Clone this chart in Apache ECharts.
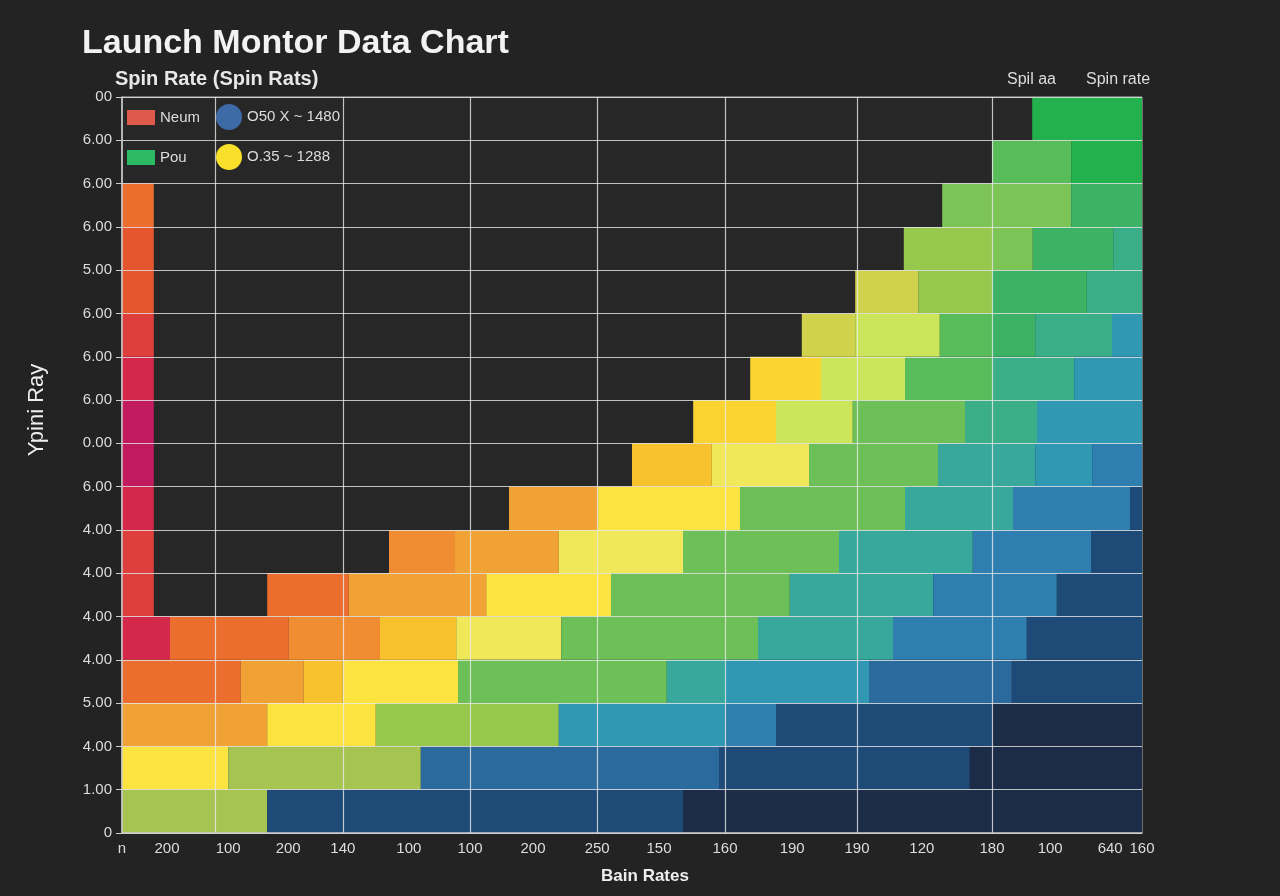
<!DOCTYPE html>
<html>
<head>
<meta charset="utf-8">
<title>Launch Montor Data Chart</title>
<script src="https://cdn.jsdelivr.net/npm/echarts@6/dist/echarts.min.js"></script>
<style>
  html, body { margin: 0; padding: 0; background: #232323; }
  #main { width: 1280px; height: 896px; }
</style>
</head>
<body>
<div id="main"></div>
<script>
// tick labels (y from bottom to top)
var yLabels = ['0', '1.00', '4.00', '5.00', '4.00', '4.00', '4.00', '4.00', '6.00',
               '0.00', '6.00', '6.00', '6.00', '5.00', '6.00', '6.00', '6.00', '00'];
var xLabels = ['n', '200', '100', '200', '140', '100', '100', '200', '250',
               '150', '160', '190', '190', '120', '180', '100', '640', '160'];
var xTickPos = [0, 0.75, 1.77, 2.77, 3.68, 4.78, 5.80, 6.85, 7.92,
                8.95, 10.05, 11.17, 12.25, 13.33, 14.50, 15.47, 16.47, 17];
// vertical grid lines
var gridX = [1.55, 3.68, 5.80, 7.92, 10.05, 12.25, 14.50];

// cells: [row, xStart, xEnd, level]
var cells = [
  [16, 15.17, 17, 19],
  [15, 14.50, 15.82, 17], [15, 15.82, 17, 19],
  [14, 0, 0.53, 4], [14, 13.67, 15.82, 15], [14, 15.82, 17, 18],
  [13, 0, 0.53, 3], [13, 13.03, 14.50, 14], [13, 14.50, 15.18, 15], [13, 15.18, 16.52, 18], [13, 16.52, 17, 20],
  [12, 0, 0.53, 3], [12, 12.22, 13.27, 12], [12, 13.27, 14.50, 14], [12, 14.50, 16.08, 18], [12, 16.08, 17, 20],
  [11, 0, 0.53, 2], [11, 11.33, 12.22, 12], [11, 12.22, 13.63, 11], [11, 13.63, 14.50, 17], [11, 14.50, 15.22, 18],
  [11, 15.22, 16.50, 20], [11, 16.50, 17, 22],
  [10, 0, 0.53, 1], [10, 10.47, 11.65, 8], [10, 11.65, 13.05, 11], [10, 13.05, 14.50, 17], [10, 14.50, 15.87, 20],
  [10, 15.87, 17, 22],
  [9, 0, 0.53, 0], [9, 9.52, 10.90, 8], [9, 10.90, 12.18, 11], [9, 12.18, 14.05, 16], [9, 14.05, 15.25, 20],
  [9, 15.25, 17, 22],
  [8, 0, 0.53, 0], [8, 8.50, 9.83, 7], [8, 9.83, 11.45, 10], [8, 11.45, 13.60, 16], [8, 13.60, 15.22, 21],
  [8, 15.22, 16.17, 22], [8, 16.17, 17, 23],
  [7, 0, 0.53, 1], [7, 6.45, 7.93, 6], [7, 7.93, 10.30, 9], [7, 10.30, 13.05, 16], [7, 13.05, 14.85, 21],
  [7, 14.85, 16.80, 23], [7, 16.80, 17, 25],
  [6, 0, 0.53, 2], [6, 4.45, 5.55, 5], [6, 5.55, 7.28, 6], [6, 7.28, 9.35, 10], [6, 9.35, 11.95, 16],
  [6, 11.95, 14.18, 21], [6, 14.18, 16.15, 23], [6, 16.15, 17, 25],
  [5, 0, 0.53, 2], [5, 2.42, 3.78, 4], [5, 3.78, 6.07, 6], [5, 6.07, 8.15, 9], [5, 8.15, 11.13, 16],
  [5, 11.13, 13.52, 21], [5, 13.52, 15.58, 23], [5, 15.58, 17, 25],
  [4, 0, 0.80, 1], [4, 0.80, 2.78, 4], [4, 2.78, 4.30, 5], [4, 4.30, 5.57, 7], [4, 5.57, 7.32, 10],
  [4, 7.32, 10.60, 16], [4, 10.60, 12.85, 21], [4, 12.85, 15.08, 23], [4, 15.08, 17, 25],
  [3, 0, 1.98, 4], [3, 1.98, 3.03, 6], [3, 3.03, 3.68, 7], [3, 3.68, 5.60, 9], [3, 5.60, 9.08, 16],
  [3, 9.08, 10.05, 21], [3, 10.05, 12.45, 22], [3, 12.45, 14.83, 24], [3, 14.83, 17, 25],
  [2, 0, 2.42, 6], [2, 2.42, 4.23, 9], [2, 4.23, 7.28, 14], [2, 7.28, 10.08, 22], [2, 10.08, 10.90, 23],
  [2, 10.90, 14.50, 25], [2, 14.50, 17, 27],
  [1, 0, 1.77, 9], [1, 1.77, 4.98, 13], [1, 4.98, 9.95, 24], [1, 9.95, 14.13, 25], [1, 14.13, 17, 27],
  [0, 0, 2.42, 13], [0, 2.42, 9.35, 25], [0, 9.35, 17, 27]
];

// legend entries
var legendRects = ['Neum', 'Pou'];
var legendDots = ['O50 X ~ 1480', 'O.35 ~ 1288'];

// colour per level
var palette = [
  '#c21a5e', '#d3284a', '#de3e3c', '#e5552e', '#ec6e2f', '#f08c32', '#f0a235', '#f8c22e',
  '#fbd432', '#fde340', '#f0e858', '#cde55a', '#cfd24a', '#a6c452', '#96c84e', '#7dc456',
  '#6dc057', '#58bc5a', '#3db265', '#22b14c', '#3aae86', '#38a89c', '#3098b2', '#2e7fb0',
  '#2a6a9c', '#1e4a78', '#1d3a60', '#1c2c48'
];
var legendColors = ['#e05a4c', '#2cbb64', '#3e6aa8', '#f8e02a'];

var font = 'Liberation Sans, Arial, sans-serif';
var myChart = echarts.init(document.getElementById('main'));

function renderItem(params, api) {
  var row = api.value(0);
  var p0 = api.coord([api.value(1), row + 1]);
  var p1 = api.coord([api.value(2), row]);
  return {
    type: 'rect',
    shape: { x: p0[0], y: p0[1], width: p1[0] - p0[0], height: p1[1] - p0[1] },
    style: { fill: palette[api.value(3)] }
  };
}

var series = [
  {
    name: 'Spin rate',
    type: 'custom',
    renderItem: renderItem,
    encode: { x: [1, 2], y: 0 },
    data: cells,
    z: 2
  },
  {
    name: 'gridlines',
    type: 'line',
    data: [],
    silent: true,
    markLine: {
      silent: true,
      symbol: ['none', 'none'],
      label: { show: false },
      lineStyle: { color: 'rgba(232,232,232,0.8)', width: 1.2, type: 'solid' },
      data: gridX.map(function (v) { return { xAxis: v }; })
    }
  }
];
legendRects.concat(legendDots).forEach(function (name, i) {
  series.push({ name: name, type: 'scatter', data: [], itemStyle: { color: legendColors[i], opacity: 1 } });
});

var option = {
  backgroundColor: '#232323',
  animation: false,
  title: [
    { text: 'Launch Montor Data Chart', left: 77, top: 22,
      textStyle: { color: '#f2f2f2', fontSize: 34, fontWeight: 'bold', fontFamily: font } },
    { text: 'Spin Rate (Spin Rats)', left: 110, top: 64,
      textStyle: { color: '#e8e8e8', fontSize: 20, fontWeight: 'bold', fontFamily: font } },
    { text: 'Spil aa', left: 1002, top: 67,
      textStyle: { color: '#dddddd', fontSize: 16, fontWeight: 'normal', fontFamily: font } },
    { text: 'Spin rate', left: 1081, top: 67,
      textStyle: { color: '#dddddd', fontSize: 16, fontWeight: 'normal', fontFamily: font } }
  ],
  legend: [
    {
      orient: 'vertical', left: 127, top: 110, padding: 0, itemWidth: 28, itemHeight: 15, itemGap: 25,
      data: legendRects.map(function (n) { return { name: n, icon: 'rect' }; }),
      textStyle: { color: '#dddddd', fontSize: 15, fontFamily: font }
    },
    {
      orient: 'vertical', left: 216, top: 104, padding: 0, itemWidth: 26, itemHeight: 26, itemGap: 14,
      data: legendDots.map(function (n) { return { name: n, icon: 'circle' }; }),
      textStyle: { color: '#dddddd', fontSize: 15, fontFamily: font }
    }
  ],
  grid: {
    left: 122, right: 138, top: 97, bottom: 63,
    show: true, backgroundColor: '#272727', borderColor: 'rgba(220,220,220,0.8)', borderWidth: 1
  },
  xAxis: {
    type: 'value', min: 0, max: 17, z: 10,
    name: 'Bain Rates', nameLocation: 'middle', nameGap: 35,
    nameTextStyle: { color: '#eeeeee', fontSize: 17, fontWeight: 'bold', fontFamily: font,
                     padding: [0, 0, 0, 26] },
    axisLine: { show: true, lineStyle: { color: '#cccccc', width: 1.5 } },
    axisTick: { show: false },
    splitLine: { show: false },
    axisLabel: {
      customValues: xTickPos, showMinLabel: true, showMaxLabel: true,
      color: '#dddddd', fontSize: 15, fontFamily: font, margin: 8,
      formatter: function (v) {
        var best = 0;
        xTickPos.forEach(function (p, i) {
          if (Math.abs(p - v) < Math.abs(xTickPos[best] - v)) best = i;
        });
        return xLabels[best];
      }
    }
  },
  yAxis: {
    type: 'value', min: 0, max: 17, interval: 1, z: 10,
    name: 'Ypini Ray', nameLocation: 'middle', nameGap: 74, nameRotate: 90,
    nameTextStyle: { color: '#eeeeee', fontSize: 22, fontFamily: font, padding: [0, 0, 0, 110] },
    axisLine: { show: true, lineStyle: { color: '#cccccc', width: 1.5 } },
    axisTick: { show: true, length: 6, lineStyle: { color: '#cccccc' } },
    splitLine: { show: true, lineStyle: { color: 'rgba(232,232,232,0.8)', width: 1.2 } },
    axisLabel: {
      color: '#dddddd', fontSize: 15, fontFamily: font, margin: 10,
      formatter: function (v) { return yLabels[Math.round(v)]; }
    }
  },
  series: series
};

myChart.setOption(option);
</script>
</body>
</html>
